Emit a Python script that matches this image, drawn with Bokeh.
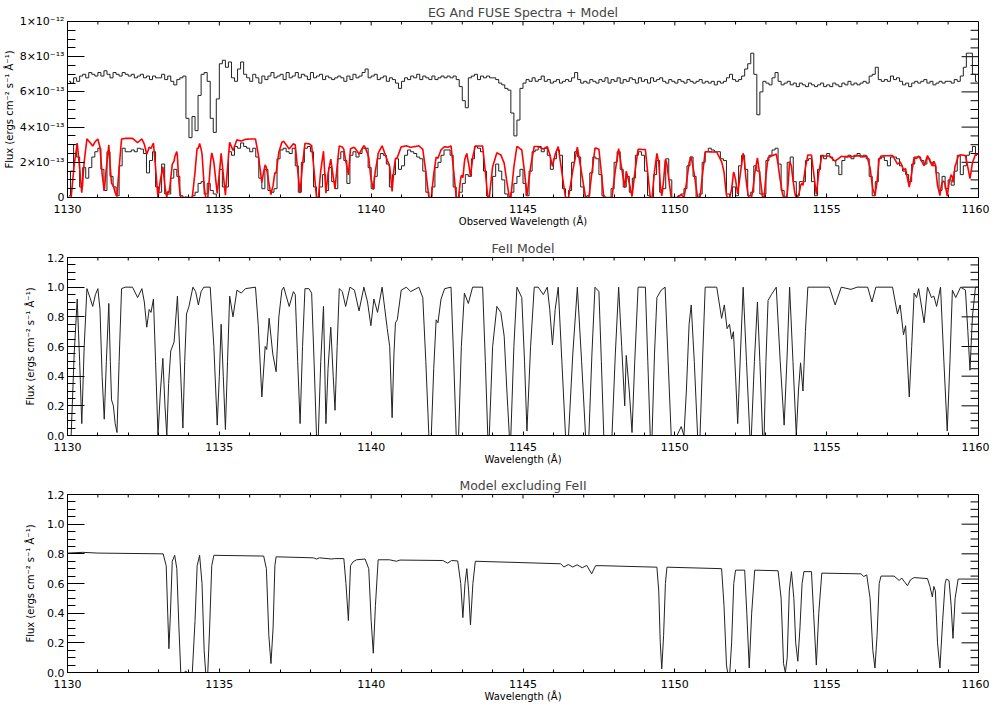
import numpy as np
from bokeh.plotting import figure
from bokeh.models import Range1d, FixedTicker, PrintfTickFormatter
from bokeh.layouts import column
from bokeh.embed import file_html
from bokeh.resources import INLINE

FONT = "DejaVu Sans"

# ---------------- data ----------------
# FeII model (middle panel): wavelength (A) and normalised flux
feii_wl = [1130.00, 1130.12, 1130.22, 1130.32, 1130.40, 1130.47, 1130.55, 1130.64, 1130.74, 1130.83,
           1130.92, 1131.00, 1131.07, 1131.14, 1131.21, 1131.28, 1131.36, 1131.41, 1131.45, 1131.51,
           1131.57, 1131.63, 1131.70, 1131.78, 1131.90, 1132.14, 1132.31, 1132.45, 1132.53, 1132.61,
           1132.69, 1132.75, 1132.83, 1132.90, 1132.98, 1133.06, 1133.14, 1133.21, 1133.27, 1133.33,
           1133.40, 1133.51, 1133.62, 1133.71, 1133.80, 1133.86, 1133.92, 1134.00, 1134.13, 1134.22,
           1134.31, 1134.40, 1134.49, 1134.70, 1134.82, 1134.93, 1135.00, 1135.06, 1135.13, 1135.20,
           1135.27, 1135.34, 1135.45, 1135.58, 1135.72, 1135.86, 1136.19, 1136.28, 1136.40, 1136.51,
           1136.56, 1136.64, 1136.76, 1136.87, 1136.96, 1137.06, 1137.12, 1137.30, 1137.44, 1137.50,
           1137.58, 1137.66, 1137.74, 1137.82, 1137.95, 1138.04, 1138.12, 1138.20, 1138.26, 1138.34,
           1138.43, 1138.51, 1138.58, 1138.67, 1138.75, 1138.81, 1138.88, 1138.95, 1139.05, 1139.16,
           1139.30, 1139.45, 1139.60, 1139.76, 1139.88, 1139.99, 1140.09, 1140.21, 1140.36, 1140.53,
           1140.61, 1140.69, 1140.75, 1140.80, 1140.86, 1140.99, 1141.16, 1141.30, 1141.57, 1141.70,
           1141.80, 1141.90, 1141.98, 1142.06, 1142.14, 1142.20, 1142.30, 1142.42, 1142.63, 1142.72,
           1142.80, 1142.88, 1142.97, 1143.07, 1143.20, 1143.34, 1143.67, 1143.76, 1143.84, 1143.89,
           1144.00, 1144.14, 1144.27, 1144.38, 1144.47, 1144.55, 1144.60, 1144.70, 1144.80, 1144.96,
           1145.05, 1145.13, 1145.25, 1145.37, 1145.50, 1145.67, 1145.80, 1145.88, 1145.97, 1146.06,
           1146.16, 1146.28, 1146.40, 1146.50, 1146.64, 1146.79, 1146.93, 1147.06, 1147.17, 1147.27,
           1147.37, 1147.50, 1147.58, 1147.66, 1147.93, 1148.04, 1148.15, 1148.25, 1148.35, 1148.40,
           1148.50, 1148.59, 1148.68, 1148.79, 1149.03, 1149.11, 1149.19, 1149.25, 1149.33, 1149.41,
           1149.55, 1149.68, 1149.78, 1149.88, 1150.07, 1150.21, 1150.30, 1150.38, 1150.47, 1150.54,
           1150.64, 1150.75, 1150.83, 1150.92, 1151.00, 1151.38, 1151.54, 1151.63, 1151.72, 1151.80,
           1151.87, 1151.93, 1152.00, 1152.07, 1152.16, 1152.25, 1152.36, 1152.47, 1152.52, 1152.62,
           1152.72, 1152.80, 1152.89, 1152.94, 1153.00, 1153.07, 1153.18, 1153.34, 1153.47, 1153.60,
           1153.70, 1153.78, 1153.89, 1154.00, 1154.07, 1154.14, 1154.22, 1154.30, 1154.38, 1155.09,
           1155.28, 1155.48, 1155.80, 1156.00, 1156.35, 1156.49, 1156.62, 1157.17, 1157.33, 1157.42,
           1157.53, 1157.60, 1157.72, 1157.80, 1157.88, 1157.96, 1158.03, 1158.21, 1158.32, 1158.45,
           1158.53, 1158.62, 1158.75, 1158.86, 1158.97, 1159.06, 1159.14, 1159.25, 1159.41, 1159.57,
           1159.65, 1159.72, 1159.80, 1159.90, 1160.00]
feii_fx = [0.00, 0.00, 0.55, 0.92, 0.50, 0.08, 0.60, 0.99, 0.93, 0.87,
           0.95, 0.99, 0.85, 0.40, 0.11, 0.50, 0.89, 0.50, 0.24, 0.20,
           0.08, 0.02, 0.50, 0.99, 1.00, 1.00, 0.93, 0.99, 0.90, 0.73,
           0.85, 0.83, 0.92, 0.50, 0.00, 0.30, 0.52, 0.20, 0.00, 0.35,
           0.57, 0.63, 0.94, 0.50, 0.05, 0.50, 0.82, 0.87, 1.00, 0.97,
           0.88, 0.97, 1.00, 1.00, 0.60, 0.07, 0.40, 0.75, 0.40, 0.04,
           0.50, 0.94, 0.80, 0.98, 0.96, 0.99, 1.00, 0.75, 0.26, 0.60,
           0.58, 0.79, 0.55, 0.43, 0.80, 0.98, 1.00, 0.87, 0.97, 0.95,
           0.50, 0.08, 0.60, 0.99, 0.99, 0.96, 0.50, 0.00, 0.00, 0.50,
           0.87, 0.08, 0.45, 0.73, 0.40, 0.17, 0.60, 0.99, 0.97, 0.87,
           1.00, 0.98, 0.84, 1.00, 0.90, 0.74, 0.92, 0.83, 1.00, 0.72,
           0.60, 0.12, 0.55, 0.76, 0.78, 0.98, 1.00, 0.97, 1.00, 0.93,
           0.50, 0.00, 0.00, 0.45, 0.78, 0.76, 0.92, 0.99, 1.00, 0.50,
           0.00, 0.00, 0.60, 0.96, 0.89, 1.00, 1.00, 0.50, 0.00, 0.00,
           0.60, 0.87, 0.83, 0.67, 0.30, 0.00, 0.00, 0.60, 1.00, 0.93,
           0.50, 0.03, 0.60, 1.00, 1.00, 0.95, 1.00, 0.85, 0.61, 0.85,
           1.00, 0.50, 0.00, 0.00, 0.55, 1.00, 0.50, 0.00, 0.00, 0.55,
           1.00, 0.97, 0.50, 0.00, 0.00, 0.55, 1.00, 0.60, 0.20, 0.54,
           0.30, 0.02, 0.50, 1.00, 1.00, 0.50, 0.00, 0.00, 0.55, 0.93,
           0.98, 1.00, 0.50, 0.00, 0.00, 0.06, 0.00, 0.30, 0.75, 0.88,
           0.50, 0.00, 0.00, 0.55, 1.00, 1.00, 0.79, 0.88, 0.72, 0.75,
           0.65, 0.70, 0.40, 0.08, 0.55, 1.00, 0.50, 0.00, 0.00, 0.50,
           0.90, 0.50, 0.00, 0.00, 0.50, 0.91, 0.95, 1.00, 0.50, 0.07,
           0.55, 1.00, 0.50, 0.00, 0.30, 0.49, 0.30, 0.70, 1.00, 1.00,
           0.88, 1.00, 0.985, 1.00, 1.00, 0.90, 1.00, 1.00, 0.82, 0.88,
           0.68, 0.74, 0.26, 0.60, 0.96, 0.93, 0.99, 0.76, 1.00, 0.93,
           0.94, 0.87, 1.00, 0.50, 0.03, 0.50, 0.98, 0.93, 1.00, 0.98,
           0.70, 0.44, 0.80, 1.00, 1.00]

# Model excluding FeII (bottom panel)
other_wl = [1130.0, 1130.5, 1131.0, 1133.15, 1133.25, 1133.30, 1133.34, 1133.39, 1133.45, 1133.53,
            1133.60, 1133.67, 1133.73, 1133.85, 1133.89, 1133.95, 1134.11, 1134.20, 1134.27, 1134.35,
            1134.43, 1134.50, 1134.55, 1134.62, 1134.68, 1134.75, 1134.82, 1136.46, 1136.55, 1136.63,
            1136.70, 1136.77, 1136.83, 1136.87, 1138.10, 1138.20, 1138.30, 1138.70, 1138.80, 1139.10,
            1139.17, 1139.25, 1139.32, 1139.40, 1139.52, 1139.80, 1139.92, 1140.00, 1140.07, 1140.14,
            1140.23, 1140.60, 1140.83, 1140.95, 1142.36, 1142.52, 1142.65, 1142.85, 1142.95, 1143.02,
            1143.09, 1143.15, 1143.21, 1143.27, 1143.35, 1143.43, 1146.24, 1146.35, 1146.49, 1146.64,
            1146.78, 1146.95, 1147.10, 1147.26, 1147.39, 1147.60, 1149.41, 1149.47, 1149.52, 1149.57,
            1149.63, 1149.69, 1149.74, 1151.54, 1151.62, 1151.70, 1151.74, 1151.81, 1151.87, 1151.94,
            1152.00, 1152.30, 1152.37, 1152.45, 1152.53, 1152.63, 1153.40, 1153.50, 1153.58, 1153.64,
            1153.70, 1153.77, 1153.84, 1153.92, 1153.98, 1154.05, 1154.12, 1154.19, 1154.25, 1154.50,
            1154.57, 1154.66, 1154.74, 1154.84, 1156.13, 1156.22, 1156.32, 1156.43, 1156.52, 1156.59,
            1156.66, 1156.73, 1156.79, 1157.22, 1157.39, 1157.47, 1157.55, 1157.66, 1157.76, 1157.88,
            1158.32, 1158.40, 1158.48, 1158.53, 1158.58, 1158.65, 1158.73, 1158.82, 1158.90, 1158.94,
            1159.03, 1159.10, 1159.16, 1159.23, 1159.33, 1160.00]
other_fx = [0.805, 0.810, 0.805, 0.800, 0.720, 0.400, 0.160, 0.400, 0.750, 0.790,
            0.700, 0.300, 0.000, 0.000, 0.010, 0.000, 0.000, 0.350, 0.720, 0.790,
            0.600, 0.150, 0.000, 0.000, 0.300, 0.720, 0.790, 0.785, 0.700, 0.250,
            0.060, 0.300, 0.720, 0.780, 0.773, 0.765, 0.773, 0.765, 0.768, 0.768,
            0.600, 0.350, 0.720, 0.745, 0.760, 0.765, 0.700, 0.350, 0.130, 0.450,
            0.760, 0.760, 0.750, 0.758, 0.755, 0.737, 0.755, 0.752, 0.600, 0.370,
            0.600, 0.700, 0.550, 0.320, 0.600, 0.750, 0.733, 0.711, 0.728, 0.711,
            0.726, 0.706, 0.722, 0.665, 0.720, 0.720, 0.710, 0.550, 0.200, 0.025,
            0.250, 0.600, 0.710, 0.700, 0.450, 0.050, 0.000, 0.000, 0.200, 0.600,
            0.690, 0.690, 0.400, 0.030, 0.400, 0.690, 0.686, 0.500, 0.060, 0.000,
            0.100, 0.550, 0.680, 0.500, 0.200, 0.076, 0.300, 0.600, 0.680, 0.680,
            0.400, 0.050, 0.400, 0.670, 0.665, 0.647, 0.658, 0.500, 0.150, 0.030,
            0.250, 0.600, 0.650, 0.650, 0.620, 0.637, 0.615, 0.585, 0.625, 0.640,
            0.633, 0.580, 0.510, 0.580, 0.550, 0.200, 0.030, 0.350, 0.600, 0.630,
            0.620, 0.450, 0.230, 0.500, 0.630, 0.630]

# Flux scale that maps the model onto the FUSE flux (units of 1e-13)
scale_wl = [1130.0, 1136.0, 1139.0, 1147.0, 1151.0, 1155.5, 1157.0, 1160.0]
scale_val = [4.15, 4.25, 3.85, 3.95, 3.70, 3.50, 3.65, 3.90]

# FUSE spectra, 0.1 A bins starting at 1130.0 A, flux in units of 1e-13
bin_start = 1130.0
bin_width = 0.1
upper_flux = [
    6.6, 6.5, 6.8, 6.6, 6.9, 7.0, 6.8, 7.1, 7.0, 6.9,
    7.1, 6.9, 7.2, 7.0, 6.8, 7.1, 7.0, 6.9, 7.1, 7.0,
    6.9, 7.0, 6.8, 6.9, 7.0, 6.8, 6.9, 6.7, 6.9, 6.8,
    6.8, 7.0, 6.7, 6.9, 6.6, 6.4, 6.7, 6.8, 6.9, 4.5,
    3.4, 4.6, 3.8, 5.8, 7.0, 7.1, 6.6, 4.5, 3.7, 5.6,
    7.6, 7.8, 7.4, 7.7, 6.8, 6.6, 7.3, 7.7, 7.0, 6.8,
    6.6, 7.0, 6.8, 6.5, 6.9, 6.7, 6.9, 7.1, 6.8, 6.9,
    7.0, 6.7, 7.1, 6.8, 6.9, 7.1, 6.8, 7.0, 6.9, 6.7,
    7.1, 6.8, 6.9, 7.0, 6.7, 6.9, 6.8, 6.7, 6.8, 6.9,
    6.8, 6.6, 6.9, 6.7, 7.0, 6.8, 6.9, 7.1, 7.3, 6.8,
    6.9, 7.0, 6.7, 6.8, 6.9, 6.6, 6.8, 6.7, 6.5, 6.2,
    6.6, 6.8, 6.7, 6.9, 6.8, 7.0, 6.7, 6.9, 6.8, 6.7,
    6.9, 6.7, 6.8, 6.9, 6.8, 6.9, 6.8, 6.9, 6.7, 6.3,
    5.5, 5.1, 6.8, 6.9, 7.0, 6.7, 6.9, 6.8, 6.9, 6.8,
    6.8, 6.7, 6.5, 6.4, 6.2, 6.1, 4.8, 3.5, 4.4, 6.2,
    6.5, 6.7, 6.6, 6.8, 6.6, 6.7, 6.9, 6.6, 6.7, 6.5,
    6.6, 6.7, 6.5, 6.6, 6.7, 6.6, 6.8, 7.1, 6.7, 6.5,
    6.6, 6.5, 6.7, 6.6, 6.5, 6.7, 6.6, 6.8, 6.5, 6.7,
    6.6, 6.8, 6.5, 6.7, 6.6, 6.8, 6.7, 6.5, 6.8, 6.6,
    6.7, 6.5, 6.8, 6.6, 6.7, 6.8, 6.6, 6.5, 6.7, 6.6,
    6.5, 6.7, 6.6, 6.5, 6.7, 6.6, 6.5, 6.6, 6.7, 6.5,
    6.6, 6.5, 6.6, 6.4, 6.6, 6.5, 6.6, 6.8, 7.0, 6.7,
    6.6, 6.7, 6.9, 7.3, 7.6, 8.2, 7.0, 4.7, 6.0, 6.6,
    6.5, 6.4, 6.8, 7.1, 6.6, 6.4, 6.5, 6.6, 6.4, 6.5,
    6.3, 6.5, 6.4, 6.3, 6.5, 6.4, 6.3, 6.4, 6.5, 6.3,
    6.4, 6.3, 6.5, 6.4, 6.3, 6.5, 6.4, 6.6, 6.4, 6.5,
    6.4, 6.5, 6.6, 6.5, 6.9, 7.0, 7.4, 6.7, 6.6, 6.7,
    6.6, 6.9, 6.7, 6.8, 6.6, 6.4, 6.5, 6.3, 6.5, 6.6,
    6.5, 6.6, 6.7, 6.5, 6.6, 6.4, 6.5, 6.6, 6.5, 6.6,
    6.6, 6.5, 6.7, 6.6, 6.9, 7.4, 8.2, 8.2, 7.0, 6.6]
egand_flux = [
    0.1, 1.5, 3.0, 2.3, 0.6, 1.7, 1.1, 1.7, 2.3, 2.6,
    2.8, 1.6, 0.4, 2.6, 1.2, 0.6, 0.1, 1.8, 2.8, 2.6,
    2.6, 2.7, 2.6, 2.8, 2.75, 2.5, 1.4, 2.1, 2.6, 0.6,
    0.3, 1.9, 0.2, 0.2, 1.1, 1.6, 1.2, 0.1, 0.0, 0.0,
    0.0, 0.1, 0.3, 0.8, 0.9, 0.2, 0.8, 0.4, 0.2, 0.0,
    1.6, 0.6, 0.6, 2.6, 2.4, 2.9, 2.8, 3.1, 2.9, 2.8,
    2.6, 2.8, 2.3, 1.1, 0.5, 1.6, 0.4, 0.3, 0.5, 2.2,
    2.7, 2.8, 2.6, 2.5, 2.8, 1.8, 0.3, 2.0, 2.8, 2.9,
    2.6, 0.6, 0.0, 0.6, 1.3, 0.4, 1.7, 0.9, 0.5, 2.2,
    2.6, 2.1, 0.8, 2.4, 2.6, 2.3, 2.5, 2.8, 2.8, 1.7,
    0.5, 1.2, 2.2, 2.5, 2.4, 1.9, 0.6, 1.3, 2.2, 1.6,
    1.8, 2.4, 2.7, 2.6, 2.5, 2.3, 2.2, 1.5, 0.3, 0.0,
    0.6, 1.7, 2.0, 2.4, 2.7, 2.7, 2.4, 0.6, 0.0, 0.3,
    0.8, 1.3, 1.2, 2.2, 2.9, 2.8, 2.6, 1.5, 0.1, 0.0,
    1.2, 1.9, 1.5, 1.0, 0.2, 0.0, 0.3, 0.8, 1.2, 1.6,
    0.8, 0.1, 1.5, 2.6, 2.7, 2.9, 2.6, 2.8, 2.4, 1.6,
    2.2, 2.7, 2.4, 0.5, 0.0, 0.4, 2.0, 2.6, 2.3, 0.6,
    0.0, 0.1, 1.4, 2.3, 2.2, 1.3, 0.1, 0.0, 0.0, 0.5,
    2.0, 2.6, 1.6, 0.6, 1.2, 0.3, 1.1, 2.4, 2.6, 2.4,
    1.5, 0.1, 0.0, 1.3, 2.1, 0.3, 0.5, 2.2, 1.0, 0.0,
    0.0, 0.1, 0.2, 0.5, 1.8, 2.3, 1.2, 0.0, 0.2, 2.0,
    2.6, 2.8, 2.7, 2.6, 2.6, 2.2, 2.1, 0.2, 0.0, 0.6,
    0.1, 1.8, 2.4, 1.6, 0.1, 0.3, 1.8, 1.5, 0.2, 0.2,
    2.1, 2.4, 2.7, 2.8, 1.9, 0.4, 0.0, 2.0, 2.3, 0.9,
    0.1, 0.9, 0.9, 2.1, 2.2, 0.9, 0.1, 1.6, 2.4, 2.2,
    2.5, 2.3, 2.1, 1.8, 1.3, 2.1, 2.3, 2.4, 2.2, 2.4,
    2.5, 2.3, 2.4, 2.2, 1.2, 0.1, 0.9, 2.2, 2.3, 2.1,
    1.8, 2.3, 2.3, 2.2, 1.8, 1.5, 1.3, 0.9, 1.9, 2.3,
    2.3, 2.1, 1.9, 2.2, 2.0, 1.8, 1.4, 0.4, 1.2, 0.5,
    1.0, 0.7, 1.5, 2.4, 1.3, 1.8, 2.4, 2.6, 2.9, 2.4]

x_ticks = [1130, 1135, 1140, 1145, 1150, 1155, 1160]
top_y_ticks = [0, 2, 4, 6, 8, 10]
top_y_labels = ["0", "2×10⁻¹³", "4×10⁻¹³", "6×10⁻¹³", "8×10⁻¹³", "1×10⁻¹²"]
model_y_ticks = [0.0, 0.2, 0.4, 0.6, 0.8, 1.0, 1.2]
flux_label = "Flux (ergs cm⁻² s⁻¹ Å⁻¹)"

# ---------------- derived arrays ----------------
bin_centers = bin_start + bin_width * (np.arange(len(upper_flux)) + 0.5)
grid = np.arange(1130.0, 1160.0001, 0.01)
model_red = (np.interp(grid, scale_wl, scale_val) *
             np.interp(grid, feii_wl, feii_fx) *
             np.interp(grid, other_wl, other_fx))

x_minor = list(range(1130, 1161))
FRAME_W = 915
X0, X1 = 1130, 1160


def style_axis(ax, ticks, minor, major_len, minor_len, fmt, fsize, standoff):
    ax.ticker = FixedTicker(ticks=ticks, minor_ticks=minor)
    ax.major_tick_in = major_len
    ax.major_tick_out = 0
    ax.minor_tick_in = minor_len
    ax.minor_tick_out = 0
    ax.axis_line_color = "black"
    ax.major_tick_line_color = "black"
    ax.minor_tick_line_color = "black"
    ax.major_label_text_font = FONT
    ax.major_label_text_color = "black"
    ax.major_label_text_font_size = fsize
    ax.major_label_standoff = standoff
    ax.axis_label_text_font = FONT
    ax.axis_label_text_font_style = "normal"
    ax.axis_label_text_font_size = "10px"
    ax.axis_label_text_color = "black"
    ax.formatter = fmt


def make_fig(height, top, bottom, title, xlabel, yr, yticks, yminor, frame_h,
             ymajor_len=17, yminor_len=8, yfmt=None, yoverrides=None, ylab_standoff=4,
             ytick_size="11px"):
    p = figure(width=989, height=height, x_range=Range1d(X0, X1), y_range=Range1d(*yr),
               output_backend="svg", toolbar_location=None,
               min_border_left=63, min_border_right=11, min_border_top=top, min_border_bottom=bottom)
    p.title.text = title
    p.title.text_font = FONT
    p.title.text_font_size = "12.5px"
    p.title.text_font_style = "normal"
    p.title.align = "center"
    p.title.standoff = 3
    p.title.offset = 0
    p.xgrid.visible = False
    p.ygrid.visible = False
    p.outline_line_color = "black"
    p.outline_line_alpha = 1.0

    xb = p.xaxis[0]
    style_axis(xb, x_ticks, x_minor, 4, 3, PrintfTickFormatter(format="%d"), "11px", 7)
    xb.axis_label = xlabel
    xb.axis_label_standoff = 0
    yl = p.yaxis[0]
    style_axis(yl, yticks, yminor, ymajor_len, yminor_len,
               yfmt if yfmt is not None else PrintfTickFormatter(format="%.1f"), ytick_size, 3)
    if yoverrides is not None:
        yl.major_label_overrides = yoverrides
    yl.axis_label = flux_label
    yl.axis_label_standoff = ylab_standoff

    # ticks on the top and right edges of the box (inward), no labels
    ypx = (yr[1] - yr[0]) / frame_h
    xpx = (X1 - X0) / FRAME_W
    tx_major = [t for t in x_ticks]
    tx_minor = [t for t in x_minor if t not in x_ticks]
    p.segment(x0=tx_major, x1=tx_major, y0=[yr[1]] * len(tx_major),
              y1=[yr[1] - 4 * ypx] * len(tx_major), line_color="black", line_width=1)
    p.segment(x0=tx_minor, x1=tx_minor, y0=[yr[1]] * len(tx_minor),
              y1=[yr[1] - 3 * ypx] * len(tx_minor), line_color="black", line_width=1)
    ty_minor = [t for t in yminor if t not in yticks]
    p.segment(x0=[X1] * len(yticks), x1=[X1 - ymajor_len * xpx] * len(yticks),
              y0=yticks, y1=yticks, line_color="black", line_width=1)
    p.segment(x0=[X1] * len(ty_minor), x1=[X1 - yminor_len * xpx] * len(ty_minor),
              y0=ty_minor, y1=ty_minor, line_color="black", line_width=1)
    return p


# ---------------- panel 1 ----------------
top_minor = [i * 0.5 for i in range(21)]
p1 = make_fig(232, 21, 35, "EG And FUSE Spectra + Model", "Observed Wavelength (Å)",
              (0, 10), top_y_ticks, top_minor, 176,
              yfmt=PrintfTickFormatter(format="%d"),
              yoverrides={t: l for t, l in zip(top_y_ticks, top_y_labels)},
              ylab_standoff=2, ytick_size="11px")
p1.step(bin_centers, upper_flux, mode="center", line_color="#222222", line_width=1)
p1.step(bin_centers, egand_flux, mode="center", line_color="#222222", line_width=1)
p1.line(grid, model_red, line_color="#ff0000", line_width=1.6)

# ---------------- panel 2 ----------------
model_minor = [round(i * 0.05, 2) for i in range(25)]
p2 = make_fig(237, 25, 34, "FeII Model", "Wavelength (Å)", (0, 1.2), model_y_ticks, model_minor, 178,
              ylab_standoff=8)
p2.line(feii_wl, feii_fx, line_color="#222222", line_width=1)

# ---------------- panel 3 ----------------
p3 = make_fig(236, 25, 33, "Model excluding FeII", "Wavelength (Å)", (0, 1.2), model_y_ticks, model_minor, 178,
              ylab_standoff=8)
p3.line(other_wl, other_fx, line_color="#222222", line_width=1)

layout = column(p1, p2, p3)
open("out.html", "w").write(file_html(layout, INLINE))
